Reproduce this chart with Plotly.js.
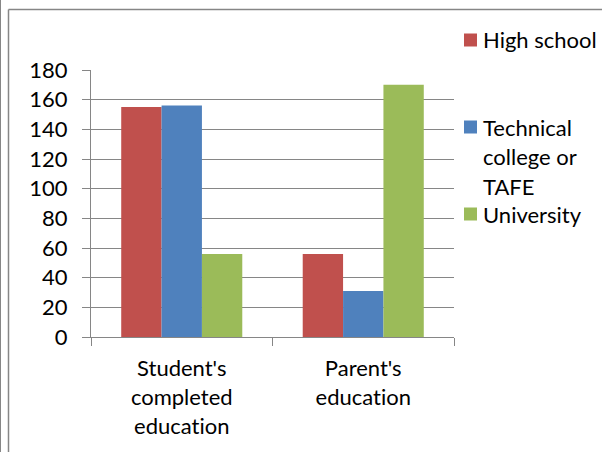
<!DOCTYPE html>
<html>
<head>
<meta charset="utf-8">
<script src="https://cdn.plot.ly/plotly-3.0.1.min.js"></script>
<style>html,body{margin:0;padding:0;background:#fff;}#chart{width:602px;height:452px;}
#chart text{font-variant-ligatures:none;font-feature-settings:"liga" 0,"clig" 0;}</style>
</head>
<body>
<div id="chart"></div>
<script>
// ---- data ----
const categories = ["Student's<br>completed<br>education", "Parent's<br>education"];
const seriesNames = ["High school", "Technical college or TAFE", "University"];
const legendLines = [["High school"], ["Technical", "college or", "TAFE"], ["University"]];
const highSchool = [155, 56];
const technical = [156, 31];
const university = [56, 170];
const yTickVals = [0, 20, 40, 60, 80, 100, 120, 140, 160, 180];

// ---- styling ----
const colors = ["#C0504D", "#4F81BD", "#9BBB59"];
const gray = "#868686";
const FONT = "Lato, 'Open Sans', sans-serif";
const FS = 22;
const W = 602, H = 452;
const M = {l: 91, r: 148, t: 70, b: 115};
const pw = W - M.l - M.r, ph = H - M.t - M.b;
const px = x => (x - M.l) / pw;
const py = y => (H - M.b - y) / ph;

const seriesValues = [highSchool, technical, university];
const traces = seriesValues.map((vals, i) => ({
  type: "bar",
  x: categories,
  y: vals,
  name: seriesNames[i],
  marker: {color: colors[i], line: {width: 0}},
  hoverinfo: "skip"
}));

// legend drawn as shapes + annotations
const entryTop = [40, 127, 214];
const lineH = 29.5;
const shapes = [];
const annotations = [];
legendLines.forEach((lines, i) => {
  const cy = entryTop[i];
  shapes.push({type: "rect", xref: "paper", yref: "paper",
    x0: px(464), x1: px(477), y0: py(cy - 6.5), y1: py(cy + 6.5),
    fillcolor: colors[i], line: {width: 0}});
  lines.forEach((t, j) => {
    annotations.push({xref: "paper", yref: "paper", x: px(481), y: py(cy + j * lineH),
      xanchor: "left", yanchor: "middle", showarrow: false, text: t,
      font: {family: FONT, size: FS, color: "#000"}});
  });
});

// outer frame
shapes.push({type: "line", xref: "paper", yref: "paper", x0: px(0.5), x1: px(0.5), y0: py(0), y1: py(H),
  line: {color: gray, width: 1}});
shapes.push({type: "line", xref: "paper", yref: "paper", x0: px(8.5), x1: px(8.5), y0: py(9.5), y1: py(H),
  line: {color: gray, width: 1.5}});
shapes.push({type: "line", xref: "paper", yref: "paper", x0: px(8.5), x1: px(W), y0: py(9.5), y1: py(9.5),
  line: {color: gray, width: 1.5}});

const layout = {
  width: W, height: H,
  margin: M,
  paper_bgcolor: "#fff", plot_bgcolor: "#fff",
  showlegend: false,
  barmode: "group",
  bargap: 0.333, bargroupgap: 0,
  font: {family: FONT, size: FS, color: "#000"},
  xaxis: {
    type: "category",
    showline: true, linecolor: gray, linewidth: 1,
    ticks: "outside", tickson: "boundaries", ticklen: 8, tickcolor: gray, tickwidth: 1,
    showgrid: false, zeroline: false,
    tickfont: {family: FONT, size: FS, color: "#000"},
    ticklabelstandoff: 12
  },
  yaxis: {
    range: [0, 180], tickmode: "array", tickvals: yTickVals,
    showgrid: true, gridcolor: gray, gridwidth: 1,
    showline: true, linecolor: gray, linewidth: 1,
    ticks: "outside", ticklen: 8, tickcolor: gray, tickwidth: 1,
    zeroline: false,
    tickfont: {family: FONT, size: FS, color: "#000"},
    ticklabelstandoff: 10
  },
  shapes: shapes,
  annotations: annotations
};

Plotly.newPlot("chart", traces, layout, {staticPlot: true, displayModeBar: false});
</script>
</body>
</html>
